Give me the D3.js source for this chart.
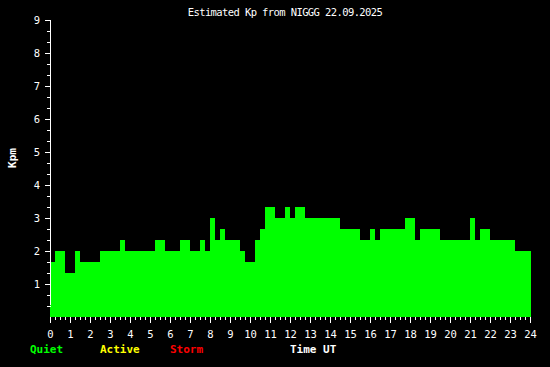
<!DOCTYPE html>
<html>
<head>
<meta charset="utf-8">
<script src="https://cdn.jsdelivr.net/npm/d3@7"></script>
<style>
  html, body { margin: 0; padding: 0; background: #000; }
  svg { display: block; }
  text { font-family: "DejaVu Sans Mono", "Liberation Mono", monospace; fill: #fff; }
</style>
</head>
<body>
<div id="chart"></div>
<script>
// Kp estimate, 15-minute steps: segment start (hours UT) and value
const segStart = [0, 0.25, 0.75, 1.25, 1.5, 2.5, 3.5, 3.75, 5.25, 5.75, 6.5, 7, 7.5, 7.75,
  8, 8.25, 8.5, 8.75, 9.5, 9.75, 10.25, 10.5, 10.75, 11.25, 11.75, 12, 12.25, 12.75,
  14.5, 15.5, 16, 16.25, 16.5, 17.75, 18.25, 18.5, 19.5, 21, 21.25, 21.5, 22, 23.25];
const segKp = [5/3, 2, 4/3, 2, 5/3, 2, 7/3, 2, 7/3, 2, 7/3, 2, 7/3, 2,
  3, 7/3, 8/3, 7/3, 2, 5/3, 7/3, 8/3, 10/3, 3, 10/3, 3, 10/3, 3,
  8/3, 7/3, 8/3, 7/3, 8/3, 3, 7/3, 8/3, 7/3, 3, 7/3, 8/3, 7/3, 2];
const dayEnd = 24;
const hourTicks = d3.range(0, 25);
const kpTicks = d3.range(1, 10);
const legendItems = [
  { label: "Quiet", color: "#00ff00" },
  { label: "Active", color: "#ffff00" },
  { label: "Storm", color: "#ff0000" }
];

const width = 550, height = 367;
const svg = d3.select("#chart").append("svg")
  .attr("width", width).attr("height", height)
  .style("background", "#000");

const x = d3.scaleLinear().domain([0, 24]).range([50, 530]);
const y = d3.scaleLinear().domain([0, 9]).range([317, 20]);

// bars
const segs = segStart.map((s, i) => ({
  t0: s,
  t1: i < segStart.length - 1 ? segStart[i + 1] : dayEnd,
  kp: segKp[i]
}));
svg.append("g").selectAll("rect").data(segs).join("rect")
  .attr("x", d => x(d.t0))
  .attr("width", d => x(d.t1) - x(d.t0) + (d.t1 === dayEnd ? 1 : 0))
  .attr("y", d => Math.round(y(d.kp)))
  .attr("height", d => y(0) - Math.round(y(d.kp)))
  .attr("fill", "#00ff00")
  .attr("shape-rendering", "crispEdges");

// y axis
const ya = svg.append("g").attr("stroke", "#fff").attr("shape-rendering", "crispEdges");
ya.append("line").attr("x1", 50.5).attr("x2", 50.5).attr("y1", y(9)).attr("y2", y(0) - 12);
d3.range(1, 28).forEach(k => {
  const v = k / 3;
  const major = k % 3 === 0;
  ya.append("line")
    .attr("x1", major ? 45 : 47).attr("x2", 51)
    .attr("y1", Math.round(y(v)) + 0.5).attr("y2", Math.round(y(v)) + 0.5);
});
svg.append("g").selectAll("text").data(kpTicks).join("text")
  .attr("x", 40).attr("y", d => y(d) + 4)
  .attr("text-anchor", "end")
  .attr("font-size", "10.5px")
  .text(d => d);

svg.append("text")
  .attr("transform", "translate(16,158) rotate(-90)")
  .attr("text-anchor", "middle")
  .attr("font-size", "11px").attr("font-weight", "bold")
  .text("Kpm");

// x axis
const xa = svg.append("g").attr("stroke", "#fff").attr("shape-rendering", "crispEdges");
d3.range(0, 97).forEach(q => {
  const major = q % 4 === 0;
  const px = Math.round(x(q / 4)) + 0.5;
  xa.append("line")
    .attr("x1", px).attr("x2", px)
    .attr("y1", 317).attr("y2", major ? 323 : 320);
});
svg.append("g").selectAll("text").data(hourTicks).join("text")
  .attr("x", d => x(d) + 0.5).attr("y", 338)
  .attr("text-anchor", "middle")
  .attr("font-size", "10.5px")
  .text(d => d);

// title
svg.append("text")
  .attr("x", 285).attr("y", 15.5)
  .attr("text-anchor", "middle")
  .attr("font-size", "10.5px")
  .attr("letter-spacing", "-0.6px")
  .text("Estimated Kp from NIGGG 22.09.2025");

// legend
svg.append("g").selectAll("text").data(legendItems).join("text")
  .attr("x", (d, i) => 30 + i * 70).attr("y", 352.5)
  .attr("font-size", "11px").attr("font-weight", "bold")
  .style("fill", d => d.color)
  .text(d => d.label);

svg.append("text")
  .attr("x", 290).attr("y", 352.5)
  .attr("font-size", "11px").attr("font-weight", "bold")
  .text("Time UT");
</script>
</body>
</html>
